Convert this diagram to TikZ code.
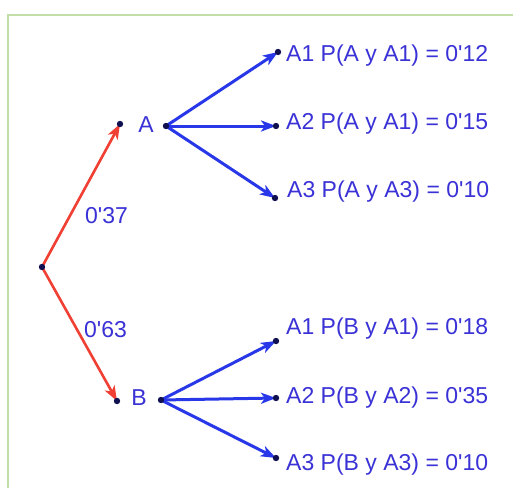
\documentclass[tikz,border=0pt]{standalone}
\usepackage{fontspec}
\setmainfont{Liberation Sans}
\usetikzlibrary{arrows.meta}
\definecolor{txtblue}{RGB}{58,50,214}
\definecolor{arrblue}{RGB}{40,56,232}
\definecolor{arrred}{RGB}{240,64,52}
\definecolor{dotnavy}{RGB}{16,16,80}
\definecolor{framegreen}{RGB}{196,222,168}
\newcommand{\q}{\textquotesingle}
\tikzset{
  lbl/.style={inner sep=0pt, anchor=base west, text=txtblue, font=\fontsize{23}{27}\selectfont},
  blueedge/.style={draw=arrblue, line width=3pt, -{Stealth[length=15pt,width=11pt,inset=4pt]}},
  rededge/.style={draw=arrred, line width=2.6pt, -{Stealth[length=15pt,width=11pt,inset=4pt]}},
  dotm/.style={fill=dotnavy},
}
\begin{document}
\begin{tikzpicture}[x=1pt,y=-1pt]
\useasboundingbox (0,0) rectangle (513,487);
\fill[white] (0,0) rectangle (513,487);
\draw[framegreen, line width=2.2pt] (8,490) -- (8,15) -- (516,15);
% points
\coordinate (R) at (42,267);
\coordinate (A) at (120,124);
\coordinate (Ab) at (166,126);
\coordinate (A1) at (278,52);
\coordinate (A2) at (276,126);
\coordinate (A3) at (275,198);
\coordinate (B) at (117,401);
\coordinate (Bb) at (161,400);
\coordinate (B1) at (276,341);
\coordinate (B2) at (276,398);
\coordinate (B3) at (276,458);
% edges
\draw[rededge] (R) -- (A);
\draw[rededge] (R) -- (B);
\draw[blueedge] (Ab) -- (A1);
\draw[blueedge] (Ab) -- (A2);
\draw[blueedge] (Ab) -- (A3);
\draw[blueedge] (Bb) -- (B1);
\draw[blueedge] (Bb) -- (B2);
\draw[blueedge] (Bb) -- (B3);
% dots
\foreach \p in {R,A,Ab,A1,A2,A3,B,Bb,B1,B2,B3} \fill[dotm] (\p) circle (3.2pt);
% labels
\node[lbl, anchor=base] (lA) at (146,132) {A};
\node[lbl, anchor=base] (lB) at (139,405) {B};
\node[lbl] (p37) at (85,223) {0\q37};
\node[lbl] (p63) at (84,337) {0\q63};
\node[lbl] (tA1) at (286,61) {A1 P(A y A1) = 0\q12};
\node[lbl] (tA2) at (286,129) {A2 P(A y A1) = 0\q15};
\node[lbl] (tA3) at (287,197) {A3 P(A y A3) = 0\q10};
\node[lbl] (tB1) at (286,334) {A1 P(B y A1) = 0\q18};
\node[lbl] (tB2) at (286,403) {A2 P(B y A2) = 0\q35};
\node[lbl] (tB3) at (286,470) {A3 P(B y A3) = 0\q10};
\end{tikzpicture}
\end{document}
